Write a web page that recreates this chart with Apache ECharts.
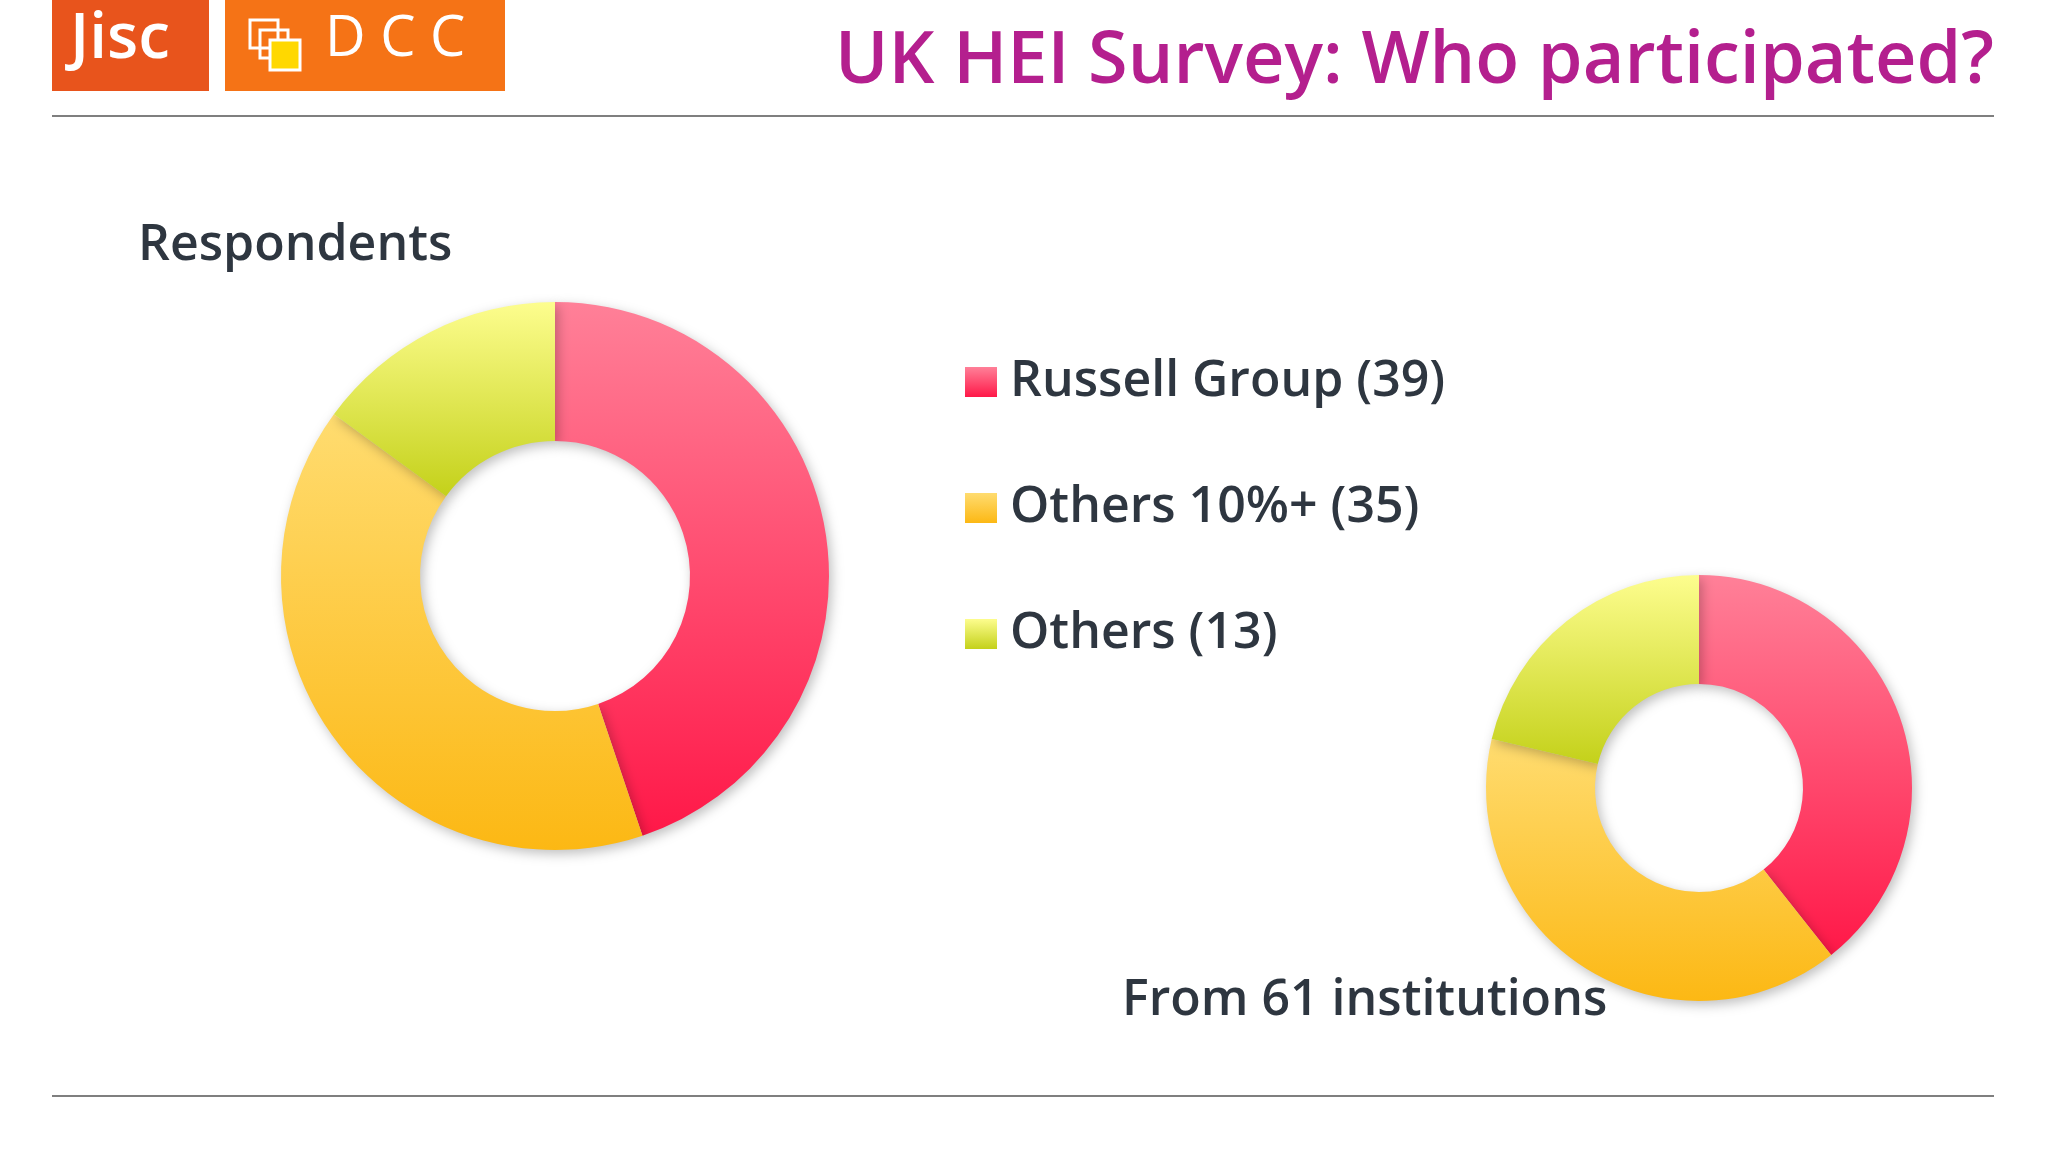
<!DOCTYPE html>
<html><head><meta charset="utf-8">
<script src="https://cdn.jsdelivr.net/npm/echarts@6/dist/echarts.min.js"></script>
<style>html,body{margin:0;background:#fff}#c{width:2048px;height:1152px}</style>
</head><body><div id="c"></div>
<script>
var groups = ['Russell Group', 'Others 10%+', 'Others'];
var respondents = [39, 35, 13];
var institutions = [24, 24, 13];
var grads = [['#ff8098', '#ff1848'], ['#ffdc70', '#fcb814'], ['#fdfd8e', '#c4d11a']];

function grad(c){
  return new echarts.graphic.LinearGradient(0, 0, 0, 1, [{offset:0, color:c[0]}, {offset:1, color:c[1]}]);
}
function pieData(vals){
  return vals.map(function(v, i){ return { name: groups[i] + ' (' + respondents[i] + ')', value: v, itemStyle: { color: grad(grads[i]) } }; });
}
var textCol = '#2e3640';
var font = '"Open Sans", sans-serif';

var chart = echarts.init(document.getElementById('c'));
chart.setOption({
  animation: false,
  legend: {
    orient: 'vertical', left: 960, top: 352, itemGap: 76, itemWidth: 32, itemHeight: 30,
    icon: 'rect', textStyle: { fontSize: 50, color: textCol, fontFamily: font, fontWeight: 600, padding: [0,0,0,8] },
    data: groups.map(function(g, i){ return g + ' (' + respondents[i] + ')'; })
  },
  graphic: [
    { type: 'rect', shape: { x: 52, y: 0, width: 157, height: 91 }, style: { fill: '#e8541c' } },
    { type: 'text', left: 70, top: 8, style: { text: 'Jisc', fill: '#fff', fontSize: 64, fontFamily: font, fontWeight: 600 } },
    { type: 'rect', shape: { x: 225, y: 0, width: 280, height: 91 }, style: { fill: '#f57316' } },
    { type: 'rect', shape: { x: 250, y: 20, width: 28, height: 28 }, style: { fill: 'none', stroke: '#fff', lineWidth: 3 } },
    { type: 'rect', shape: { x: 260, y: 30, width: 28, height: 28 }, style: { fill: 'none', stroke: '#fff', lineWidth: 3 } },
    { type: 'rect', shape: { x: 270, y: 40, width: 30, height: 30 }, style: { fill: '#ffd800', stroke: '#fff', lineWidth: 3 } },
    { type: 'text', left: 325, top: 12, style: { text: 'D C C', fill: '#fff', fontSize: 56, fontFamily: font } },
    { type: 'text', right: 54, top: 26, style: { text: 'UK HEI Survey: Who participated?', fill: '#b41f8e', fontSize: 72, fontWeight: 600, fontFamily: font } },
    { type: 'line', shape: { x1: 52, y1: 116, x2: 1994, y2: 116 }, style: { stroke: '#555', lineWidth: 1.5 } },
    { type: 'line', shape: { x1: 52, y1: 1096, x2: 1994, y2: 1096 }, style: { stroke: '#555', lineWidth: 1.5 } },
    { type: 'text', left: 138, top: 221, style: { text: 'Respondents', fill: textCol, fontSize: 50, fontWeight: 600, fontFamily: font } },
    { type: 'text', left: 1122, top: 976, z: 10, style: { text: 'From 61 institutions', fill: textCol, fontSize: 50, fontWeight: 600, fontFamily: font } }
  ],
  series: [
    { type: 'pie', center: [555, 576], radius: [135, 274], startAngle: 90, clockwise: true,
      label: { show: false }, labelLine: { show: false }, silent: true,
      itemStyle: { shadowBlur: 12, shadowColor: 'rgba(0,0,0,0.25)', shadowOffsetX: 3, shadowOffsetY: 4 },
      data: pieData(respondents) },
    { type: 'pie', center: [1699, 788], radius: [104, 213], startAngle: 90, clockwise: true,
      label: { show: false }, labelLine: { show: false }, silent: true,
      itemStyle: { shadowBlur: 12, shadowColor: 'rgba(0,0,0,0.25)', shadowOffsetX: 3, shadowOffsetY: 4 },
      data: pieData(institutions) }
  ]
});
</script></body></html>
